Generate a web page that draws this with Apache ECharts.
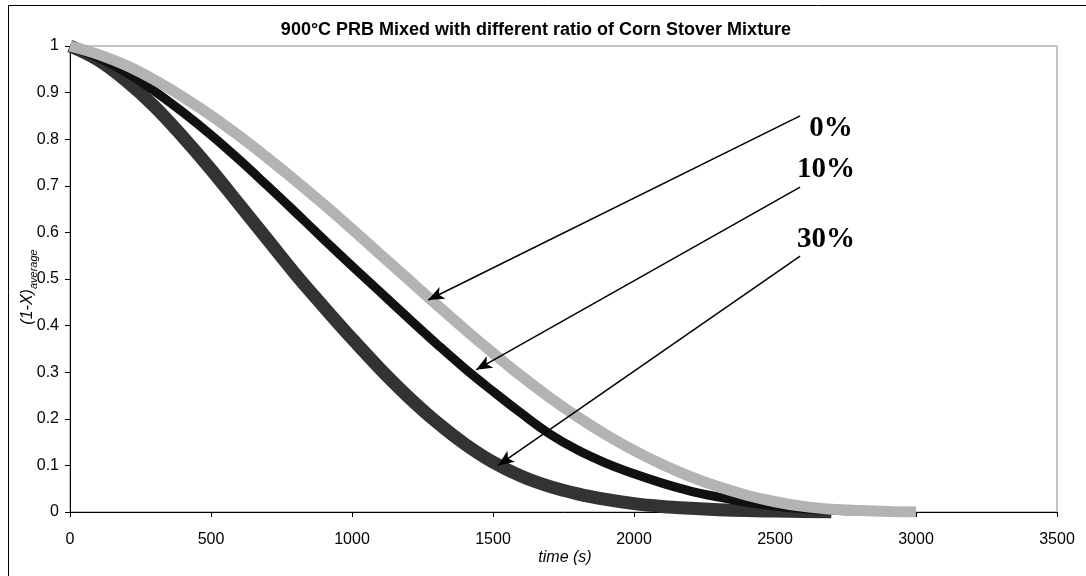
<!DOCTYPE html>
<html>
<head>
<meta charset="utf-8">
<script src="https://cdn.jsdelivr.net/npm/echarts/dist/echarts.min.js"></script>
<style>html,body{margin:0;padding:0;background:#fff}#c{width:1086px;height:576px}</style>
</head>
<body>
<div id="c"></div>
<script>
// ---- data ----
const times = [0,100,200,300,400,500,600,700,800,900,1000,1100,1200,1300,1400,1500,1600,1700,1800,1900,2000,2100,2200,2300,2400,2500,2600,2700,2800,2900,3000];
const cs0  = [1.0,0.982,0.958,0.927,0.891,0.851,0.807,0.76,0.711,0.66,0.607,0.553,0.499,0.445,0.392,0.341,0.292,0.246,0.204,0.166,0.132,0.102,0.076,0.054,0.036,0.022,0.012,0.006,0.003,0.001,0];
const cs10 = [1.0,0.975,0.943,0.903,0.858,0.809,0.756,0.70,0.643,0.585,0.528,0.472,0.416,0.361,0.308,0.259,0.212,0.168,0.133,0.105,0.082,0.062,0.045,0.032,0.021,0.013,0.007,0.004,0.002,0.001,0];
const cs30 = [1.0,0.97,0.925,0.87,0.805,0.735,0.66,0.585,0.51,0.44,0.372,0.307,0.247,0.193,0.146,0.107,0.077,0.055,0.039,0.027,0.018,0.012,0.008,0.005,0.003,0.002,0.001,0,null,null,null];
const xTicks = {min:0, max:3500, interval:500};
const yTicks = {min:0, max:1, interval:0.1};
const labels = ['0%','10%','30%'];
const titleText = '900°C PRB Mixed with different ratio of Corn Stover Mixture';
// arrows: [startTime, startValue, tipTime, tipValue]
const arrows = [[2589,0.850,1270,0.455],[2589,0.697,1440,0.305],[2589,0.549,1518,0.100]];

function pairs(vals){ const out=[]; times.forEach((t,i)=>{ if(vals[i]!==null) out.push([t,vals[i]]); }); return out; }

const chart = echarts.init(document.getElementById('c'), null, {renderer:'canvas'});
const axisText = {color:'#000', fontFamily:'Arial, "Liberation Sans", sans-serif', fontSize:16};
chart.setOption({
  animation:false,
  backgroundColor:'#fff',
  grid:{left:70, right:29, top:46, bottom:64, show:true, borderColor:'#888', borderWidth:1, backgroundColor:'transparent'},
  xAxis:{type:'value', min:xTicks.min, max:xTicks.max, interval:xTicks.interval,
    axisLine:{show:true, onZero:false, lineStyle:{color:'#000', width:1}},
    axisTick:{show:true, length:5, lineStyle:{color:'#000'}},
    splitLine:{show:false},
    axisLabel:Object.assign({margin:20, formatter:v=>String(v)}, axisText)},
  yAxis:{type:'value', min:yTicks.min, max:yTicks.max, interval:yTicks.interval,
    axisLine:{show:true, onZero:false, lineStyle:{color:'#000', width:1}},
    axisTick:{show:true, length:5, lineStyle:{color:'#000'}},
    splitLine:{show:false},
    axisLabel:Object.assign({margin:11, formatter:v=>String(+v.toFixed(1))}, axisText)},
  series:[
    {name:'30%', type:'line', data:pairs(cs30), smooth:0.4, symbol:'none', lineStyle:{color:'#333333', width:13, join:'round', cap:'butt'}, z:2},
    {name:'10%', type:'line', data:pairs(cs10), smooth:0.4, symbol:'none', lineStyle:{color:'#111111', width:9, join:'round', cap:'butt'}, z:3},
    {name:'0%', type:'line', data:pairs(cs0), smooth:0.4, symbol:'none', lineStyle:{color:'#b3b3b3', width:11, join:'round', cap:'butt'}, z:4,
      markLine:{silent:true, symbol:['none','arrow'], symbolSize:[10,16], label:{show:false},
        lineStyle:{color:'#000', width:1.5, type:'solid'},
        data: arrows.map(a=>[{coord:[a[0],a[1]]},{coord:[a[2],a[3]]}])}}
  ],
  graphic:[
    {type:'rect', shape:{x:8.5, y:5.5, width:1100, height:600}, style:{fill:'none', stroke:'#000', lineWidth:1}, silent:true},
    {type:'text', x:536, y:30, style:{text:titleText, font:'bold 18px Arial, "Liberation Sans", sans-serif', fill:'#000', align:'center', verticalAlign:'middle'}},
    {type:'text', x:565, y:558, style:{text:'time (s)', font:'italic 16px Arial, "Liberation Sans", sans-serif', fill:'#000', align:'center', verticalAlign:'middle'}},
    {type:'text', x:28, y:287, rotation:Math.PI/2, style:{text:'{m|(1-X)}{s|average}', align:'center', verticalAlign:'middle',
      rich:{m:{font:'italic 16px Arial, "Liberation Sans", sans-serif', fill:'#000', lineHeight:22, verticalAlign:'middle'},
            s:{font:'italic 11px Arial, "Liberation Sans", sans-serif', fill:'#000', lineHeight:22, verticalAlign:'bottom', padding:[8,0,0,0]}}}},
    {type:'text', x:831, y:129, style:{text:labels[0], font:'bold 29px "Liberation Serif", "Times New Roman", serif', fill:'#000', align:'center', verticalAlign:'middle'}},
    {type:'text', x:826, y:170, style:{text:labels[1], font:'bold 29px "Liberation Serif", "Times New Roman", serif', fill:'#000', align:'center', verticalAlign:'middle'}},
    {type:'text', x:826, y:240, style:{text:labels[2], font:'bold 29px "Liberation Serif", "Times New Roman", serif', fill:'#000', align:'center', verticalAlign:'middle'}}
  ]
});
</script>
</body>
</html>
